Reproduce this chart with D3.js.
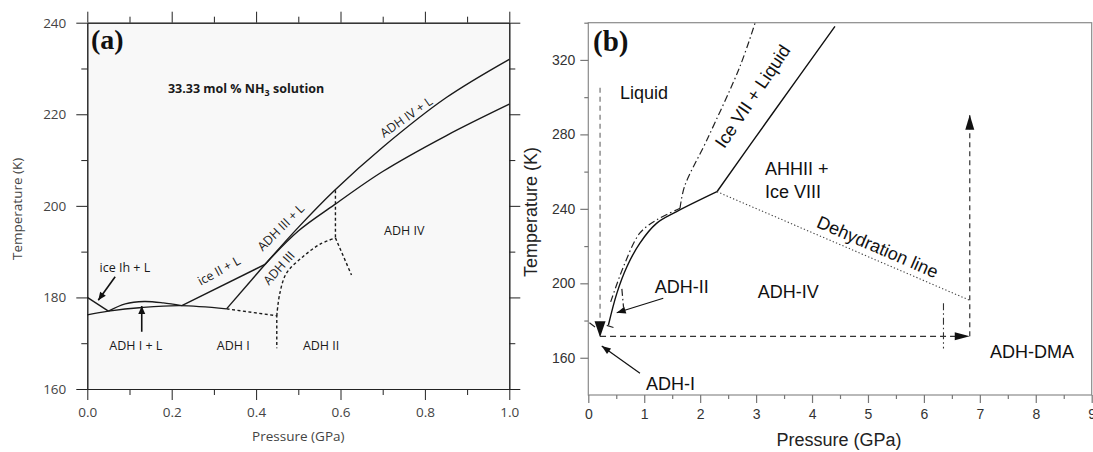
<!DOCTYPE html>
<html>
<head>
<meta charset="utf-8">
<script src="https://cdn.jsdelivr.net/npm/d3@7"></script>
<style>
  body { margin: 0; background: #fff; }
  svg { display: block; }
</style>
</head>
<body>
<svg id="chart" width="1093" height="452"></svg>
<script>
'use strict';

// ---- panel (a): 33.33 mol % NH3 solution (P in GPa, T in K)
var aPressureTicks = [0, 0.2, 0.4, 0.6, 0.8, 1.0];
var aPressureMinor = [0.1, 0.3, 0.5, 0.7, 0.9];
var aTempTicks = [160, 180, 200, 220, 240];
var aTempMinor = [170, 190, 210, 230];

var iceIhLiquidus = [[0, 180], [0.05, 177.0]];
var adh1Liquidus = [[0, 176.2], [0.05, 177.0], [0.13, 177.8], [0.22, 178.2], [0.33, 177.5]];
var adh1LiquidArc = [[0.05, 177.0], [0.09, 178.6], [0.135, 179.1], [0.18, 178.8], [0.224, 178.2]];
var ice2Liquidus = [[0.224, 178.2], [0.421, 187.2]];
var adh1Adh3 = [[0.33, 177.5], [0.421, 187.2]];
var upperLiquidus = [[0.421, 187.2], [0.5, 195.3], [0.585, 203.3], [0.7, 212.8], [0.85, 223.6], [1.0, 232]];
var adh3Solidus = [[0.421, 187.2], [0.5, 194.5], [0.585, 200.2], [0.7, 207.5], [0.85, 215.3], [1.0, 222.2]];
var adh1Adh2 = [[0.33, 177.5], [0.449, 176.0], [0.449, 168.9]];
var adh3Adh2 = [[0.449, 176.0], [0.456, 180.8], [0.472, 185.3], [0.511, 188.9], [0.551, 191.6], [0.588, 193.0]];
var adh3Adh4 = [[0.588, 203.4], [0.588, 193.0]];
var adh2Adh4 = [[0.588, 193.0], [0.626, 184.9]];

// ---- panel (b): high pressure diagram
var bPressureTicks = [0, 1, 2, 3, 4, 5, 6, 7, 8, 9];
var bPressureMinor = [0.5, 1.5, 2.5, 3.5, 4.5, 5.5, 6.5, 7.5, 8.5];
var bTempTicks = [160, 200, 240, 280, 320];
var bTempMinor = [180, 220, 260, 300, 340];

var meltLow = [[0.36, 177.6], [0.51, 194.6], [0.69, 208.9], [0.92, 221.5], [1.22, 232.2], [1.58, 238.5], [2.3, 249.2]];
var meltHigh = [[2.3, 249.2], [3.3, 291.5], [4.41, 338]];
var iceVIILow = [[0.40, 190], [0.63, 209], [0.92, 226.9], [1.22, 234], [1.64, 240.3]];
var iceVIIHigh = [[1.64, 240.3], [1.72, 252], [2.12, 277], [2.71, 316.4], [2.98, 339.7]];
var adh2Branch = [[0.60, 197], [0.63, 187]];
var adh1Bits = [[[0.02, 178.8], [0.12, 176.5]], [[0.33, 177.4], [0.45, 176.3]]];
var dehydration = [[2.3, 249.2], [6.81, 191]];
var dmaBoundary = [[6.35, 189.3], [6.35, 165]];
var pathDown = [[0.21, 305], [0.21, 171.5]];
var pathAcross = [[0.21, 171.5], [6.82, 171.5]];
var pathUp = [[6.82, 171.5], [6.82, 290.5]];

var svg = d3.select('#chart');

var xA = d3.scaleLinear().domain([0, 1]).range([87.3, 509.3]);
var yA = d3.scaleLinear().domain([160, 240]).range([389, 22.7]);
var xB = d3.scaleLinear().domain([0, 9]).range([588.3, 1091.7]);
var yB = d3.scaleLinear().domain([140, 340]).range([395, 22.7]);

function drawLine(g, x, y, pts, opts) {
  var line = d3.line()
    .x(function(d) { return x(d[0]); })
    .y(function(d) { return y(d[1]); })
    .curve(opts.curve || d3.curveLinear);
  return g.append('path')
    .attr('d', line(pts))
    .attr('fill', 'none')
    .attr('stroke', opts.color || '#111')
    .attr('stroke-width', opts.width || 1.3)
    .attr('stroke-dasharray', opts.dash || null);
}

function arrowHead(g, x1, y1, x2, y2, len, half) {
  var a = Math.atan2(y2 - y1, x2 - x1);
  var bx = x2 - len * Math.cos(a);
  var by = y2 - len * Math.sin(a);
  var px = -Math.sin(a) * half;
  var py = Math.cos(a) * half;
  g.append('path')
    .attr('d', 'M' + x2 + ',' + y2 + 'L' + (bx + px) + ',' + (by + py) + 'L' + (bx - px) + ',' + (by - py) + 'Z')
    .attr('fill', '#111');
}

function arrow(g, x, y, from, to, len, half, width) {
  g.append('line')
    .attr('x1', x(from[0])).attr('y1', y(from[1]))
    .attr('x2', x(to[0])).attr('y2', y(to[1]))
    .attr('stroke', '#111')
    .attr('stroke-width', width || 1.2);
  arrowHead(g, x(from[0]), y(from[1]), x(to[0]), y(to[1]), len, half);
}

function label(g, x, y, p, t, text, opts) {
  var el = g.append('text')
    .attr('x', x(p))
    .attr('y', y(t))
    .attr('text-anchor', opts.anchor || 'middle')
    .attr('font-family', opts.family)
    .attr('font-size', opts.size)
    .attr('font-weight', opts.weight || null)
    .attr('fill', opts.color || '#111')
    .text(text);
  if (opts.rotate) {
    el.attr('transform', 'rotate(' + opts.rotate + ',' + x(p) + ',' + y(t) + ')');
  }
  return el;
}

// ================= panel (a) =================
var fontA = '"Open Sans", "DejaVu Sans", sans-serif';
var ga = svg.append('g');

ga.append('rect')
  .attr('x', xA(0)).attr('y', yA(240))
  .attr('width', xA(1) - xA(0)).attr('height', yA(160) - yA(240))
  .attr('fill', '#f8f8f8');

function styleAxisA(sel) {
  sel.select('.domain').attr('stroke', '#222');
  sel.selectAll('.tick line').attr('stroke', '#222');
  sel.selectAll('.tick text')
    .attr('fill', '#444')
    .attr('font-family', fontA)
    .attr('font-size', 13.5);
}

var axesA = [
  { axis: d3.axisLeft(yA).tickValues(aTempTicks).tickSize(11).tickPadding(10), t: 'translate(' + xA(0) + ',0)' },
  { axis: d3.axisLeft(yA).tickValues(aTempMinor).tickSize(6).tickFormat(''), t: 'translate(' + xA(0) + ',0)' },
  { axis: d3.axisRight(yA).tickValues(aTempTicks).tickSize(11).tickFormat(''), t: 'translate(' + xA(1) + ',0)' },
  { axis: d3.axisRight(yA).tickValues(aTempMinor).tickSize(6).tickFormat(''), t: 'translate(' + xA(1) + ',0)' },
  { axis: d3.axisBottom(xA).tickValues(aPressureTicks).tickSize(11).tickPadding(7).tickFormat(d3.format('.1f')), t: 'translate(0,' + yA(160) + ')' },
  { axis: d3.axisBottom(xA).tickValues(aPressureMinor).tickSize(6).tickFormat(''), t: 'translate(0,' + yA(160) + ')' },
  { axis: d3.axisTop(xA).tickValues(aPressureTicks).tickSize(11).tickFormat(''), t: 'translate(0,' + yA(240) + ')' },
  { axis: d3.axisTop(xA).tickValues(aPressureMinor).tickSize(6).tickFormat(''), t: 'translate(0,' + yA(240) + ')' }
];
axesA.forEach(function(a) {
  ga.append('g').attr('transform', a.t).call(a.axis.tickSizeOuter(0)).call(styleAxisA);
});

ga.append('text')
  .attr('x', (xA(0) + xA(1)) / 2).attr('y', 441)
  .attr('text-anchor', 'middle')
  .attr('font-family', fontA).attr('font-size', 13.5).attr('fill', '#444')
  .text('Pressure (GPa)');
ga.append('text')
  .attr('transform', 'translate(22,' + ((yA(160) + yA(240)) / 2 + 3) + ') rotate(-90)')
  .attr('text-anchor', 'middle')
  .attr('font-family', fontA).attr('font-size', 13.5).attr('fill', '#444')
  .text('Temperature (K)');

var solidA = { curve: d3.curveLinear, width: 1.4, color: '#1a1a1a' };
var smoothA = { curve: d3.curveCatmullRom, width: 1.4, color: '#1a1a1a' };
var dashA = { width: 1.4, color: '#1a1a1a', dash: '3,2.5' };

drawLine(ga, xA, yA, iceIhLiquidus, solidA);
drawLine(ga, xA, yA, adh1Liquidus, smoothA);
drawLine(ga, xA, yA, adh1LiquidArc, smoothA);
drawLine(ga, xA, yA, ice2Liquidus, solidA);
drawLine(ga, xA, yA, adh1Adh3, solidA);
drawLine(ga, xA, yA, upperLiquidus, smoothA);
drawLine(ga, xA, yA, adh3Solidus, smoothA);
drawLine(ga, xA, yA, adh1Adh2, dashA);
drawLine(ga, xA, yA, adh3Adh2, { curve: d3.curveCatmullRom, width: 1.4, color: '#1a1a1a', dash: '3,2.5' });
drawLine(ga, xA, yA, adh3Adh4, dashA);
drawLine(ga, xA, yA, adh2Adh4, dashA);

arrow(ga, xA, yA, [0.066, 184.5], [0.026, 179.4], 8, 3.5, 1.6);
arrow(ga, xA, yA, [0.129, 172.5], [0.129, 178.1], 8, 3.5, 1.6);

var la = { family: fontA, size: 12.5, color: '#1a1a1a' };
var title = ga.append('text')
  .attr('x', xA(0.191)).attr('y', yA(224.6))
  .attr('font-family', fontA).attr('font-size', 12.5).attr('font-weight', 'bold').attr('fill', '#1a1a1a');
title.append('tspan').text('33.33 mol % NH');
title.append('tspan').attr('font-size', 9).attr('dy', 3).text('3');
title.append('tspan').attr('dy', -3).text(' solution');

label(ga, xA, yA, 0.089, 185.6, 'ice Ih + L', la);
label(ga, xA, yA, 0.115, 168.5, 'ADH I + L', la);
label(ga, xA, yA, 0.346, 168.5, 'ADH I', la);
label(ga, xA, yA, 0.554, 168.5, 'ADH II', la);
label(ga, xA, yA, 0.751, 193.6, 'ADH IV', la);
label(ga, xA, yA, 0.317, 185.0, 'ice II + L', { family: fontA, size: 12.5, color: '#1a1a1a', rotate: -29 });
label(ga, xA, yA, 0.466, 194.6, 'ADH III + L', { family: fontA, size: 12.5, color: '#1a1a1a', rotate: -45 });
label(ga, xA, yA, 0.462, 185.8, 'ADH III', { family: fontA, size: 12.5, color: '#1a1a1a', rotate: -48 });
label(ga, xA, yA, 0.762, 218.6, 'ADH IV + L', { family: fontA, size: 12.5, color: '#1a1a1a', rotate: -35 });

ga.append('text')
  .attr('x', 91).attr('y', 49)
  .attr('font-family', '"Liberation Serif", "Times New Roman", serif')
  .attr('font-weight', 'bold').attr('font-size', 28).attr('fill', '#111')
  .text('(a)');

// ================= panel (b) =================
var fontB = '"Liberation Sans", Arial, sans-serif';
var gb = svg.append('g');

gb.append('rect')
  .attr('x', xB(0)).attr('y', yB(340))
  .attr('width', xB(9) - xB(0)).attr('height', yB(140) - yB(340))
  .attr('fill', 'none').attr('stroke', '#8a8a8a').attr('stroke-width', 1.2);

function styleAxisB(sel) {
  sel.select('.domain').remove();
  sel.selectAll('.tick line').attr('stroke', '#777').attr('stroke-width', 1.2);
  sel.selectAll('.tick text')
    .attr('fill', '#333')
    .attr('font-family', fontB)
    .attr('font-size', 14);
}

gb.append('g').attr('transform', 'translate(' + xB(0) + ',0)')
  .call(d3.axisLeft(yB).tickValues(bTempTicks).tickSize(8).tickPadding(5)).call(styleAxisB);
gb.append('g').attr('transform', 'translate(' + xB(0) + ',0)')
  .call(d3.axisLeft(yB).tickValues(bTempMinor).tickSize(4).tickFormat('')).call(styleAxisB);
gb.append('g').attr('transform', 'translate(0,' + yB(140) + ')')
  .call(d3.axisBottom(xB).tickValues(bPressureTicks).tickSize(8).tickPadding(6)).call(styleAxisB);
gb.append('g').attr('transform', 'translate(0,' + yB(140) + ')')
  .call(d3.axisBottom(xB).tickValues(bPressureMinor).tickSize(4).tickFormat('')).call(styleAxisB);

gb.append('text')
  .attr('x', 839).attr('y', 446)
  .attr('text-anchor', 'middle')
  .attr('font-family', fontB).attr('font-size', 18).attr('fill', '#222')
  .text('Pressure (GPa)');
gb.append('text')
  .attr('transform', 'translate(537,212) rotate(-90)')
  .attr('text-anchor', 'middle')
  .attr('font-family', fontB).attr('font-size', 18).attr('fill', '#222')
  .text('Temperature (K)');

var solidB = { curve: d3.curveCatmullRom, width: 1.4, color: '#111' };
var dashDotB = { curve: d3.curveCatmullRom, width: 1.2, color: '#222', dash: '7,3,1.5,3' };

drawLine(gb, xB, yB, meltLow, solidB);
drawLine(gb, xB, yB, meltHigh, solidB);
adh1Bits.forEach(function(bit) {
  drawLine(gb, xB, yB, bit, { width: 1.1, color: '#222' });
});
drawLine(gb, xB, yB, iceVIILow, dashDotB);
drawLine(gb, xB, yB, iceVIIHigh, dashDotB);
drawLine(gb, xB, yB, adh2Branch, dashDotB);
drawLine(gb, xB, yB, dmaBoundary, { width: 1.1, color: '#333', dash: '7,3,1.5,3' });
drawLine(gb, xB, yB, dehydration, { width: 1.1, color: '#444', dash: '1.3,2.2' });
drawLine(gb, xB, yB, pathDown, { width: 1.1, color: '#666', dash: '5,4' });
drawLine(gb, xB, yB, pathAcross, { width: 1.2, color: '#333', dash: '6,4' });
drawLine(gb, xB, yB, pathUp, { width: 1.2, color: '#333', dash: '5,4' });

// arrow heads on the cooling / compression path
arrowHead(gb, xB(pathDown[0][0]), yB(pathDown[0][1]), xB(pathDown[1][0]), yB(pathDown[1][1]) + 1, 16, 5.5);
arrowHead(gb, xB(pathAcross[0][0]), yB(pathAcross[0][1]), xB(pathAcross[1][0]), yB(pathAcross[1][1]), 15, 4);
arrowHead(gb, xB(pathUp[0][0]), yB(pathUp[0][1]), xB(pathUp[1][0]), yB(pathUp[1][1]), 15, 4.5);

arrow(gb, xB, yB, [1.34, 192.0], [0.508, 184.2], 9, 3.5, 1.2);
arrow(gb, xB, yB, [0.924, 151.7], [0.24, 166.3], 9, 3.5, 1.2);

var lb = { family: fontB, size: 18, anchor: 'start', color: '#111' };
label(gb, xB, yB, 0.567, 299.0, 'Liquid', lb);
label(gb, xB, yB, 3.16, 258.2, 'AHHII +', lb);
label(gb, xB, yB, 3.16, 245.8, 'Ice VIII', lb);
label(gb, xB, yB, 1.19, 194.8, 'ADH-II', lb);
label(gb, xB, yB, 3.03, 192.1, 'ADH-IV', lb);
label(gb, xB, yB, 7.18, 159.9, 'ADH-DMA', lb);
label(gb, xB, yB, 1.03, 142.6, 'ADH-I', lb);
label(gb, xB, yB, 3.03, 298.6, 'Ice VII + Liquid', { family: fontB, size: 18, color: '#111', rotate: -56 });
label(gb, xB, yB, 5.13, 216.5, 'Dehydration line', { family: fontB, size: 18, color: '#111', rotate: 23.5 });

gb.append('text')
  .attr('x', 593).attr('y', 51)
  .attr('font-family', '"Liberation Serif", "Times New Roman", serif')
  .attr('font-weight', 'bold').attr('font-size', 29).attr('fill', '#111')
  .text('(b)');
</script>
</body>
</html>
